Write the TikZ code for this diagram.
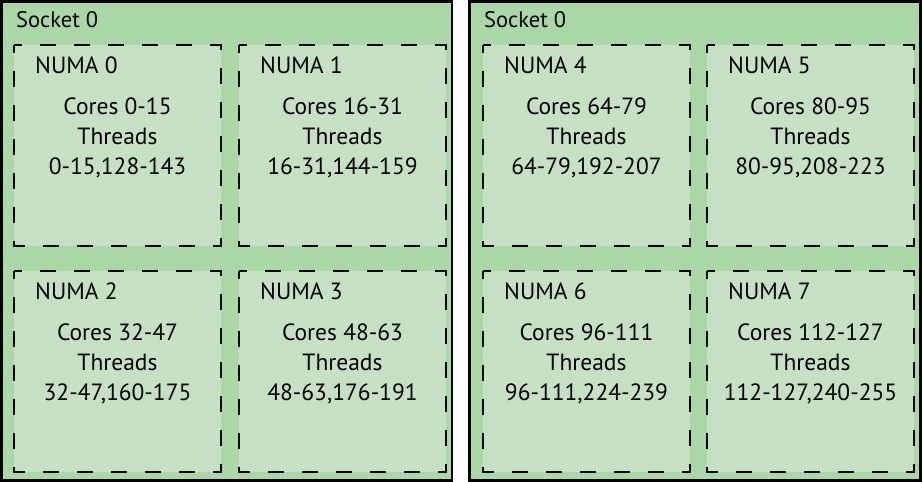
\documentclass[tikz,border=0pt]{standalone}
\usepackage{fontspec}
\setmainfont{PT Sans}
\usepackage{tikz}
\usetikzlibrary{calc}
\definecolor{sockfill}{RGB}{169,215,165}
\definecolor{numafill}{RGB}{198,224,196}
\tikzset{
  sockline/.style={draw=black, line width=2.5pt, fill=sockfill},
  numaline/.style={draw=black, line width=1.8pt, fill=numafill, dash pattern=on 16pt off 18pt, dash phase=8pt},
  socklabel/.style={anchor=base west, inner sep=0pt, font=\fontsize{22.5}{27}\selectfont},
  numalabel/.style={anchor=base west, inner sep=0pt, font=\fontsize{23.5}{28}\selectfont},
  numatext/.style={anchor=base, inner sep=0pt, align=center, font=\fontsize{23.5}{30}\selectfont}
}
\newcommand{\socketbox}[5]{ \draw[sockline] ( #1 , #2 ) rectangle ( #3 , #4 ); \node[socklabel] (#5) at ( #1 + 14.5 , #2 + 26 ) {Socket 0};}
\newcommand{\numabox}[6]{ \draw[numaline] ( #1 , #2 ) rectangle ++( 207 , 201 ); \node[numalabel] (#3) at ( #1 + 21 , #2 + 28 ) {NUMA #4}; \node[numatext] (#3txt) at ( #1 + 103.5 , #2 + 129.5 ) {Cores #5\\Threads\\#6};}
\begin{document}
\begin{tikzpicture}[x=1pt, y=-1pt]
        \useasboundingbox (0,0) rectangle (922,482);

        % socket 0, left
        \socketbox{1.5}{1.5}{452}{480.5}{sockA}

        \numabox{14}{45}{numa0}{0}{0-15}{0-15,128-143}
        \numabox{239}{45}{numa1}{1}{16-31}{16-31,144-159}
        \numabox{14}{271}{numa2}{2}{32-47}{32-47,160-175}
        \numabox{239}{271}{numa3}{3}{48-63}{48-63,176-191}

        % socket 0, right
        \socketbox{469.5}{1.5}{920.5}{480.5}{sockB}

        \numabox{483}{45}{numa4}{4}{64-79}{64-79,192-207}
        \numabox{707}{45}{numa5}{5}{80-95}{80-95,208-223}
        \numabox{483}{271}{numa6}{6}{96-111}{96-111,224-239}
        \numabox{707}{271}{numa7}{7}{112-127}{112-127,240-255}

\end{tikzpicture}
\end{document}
